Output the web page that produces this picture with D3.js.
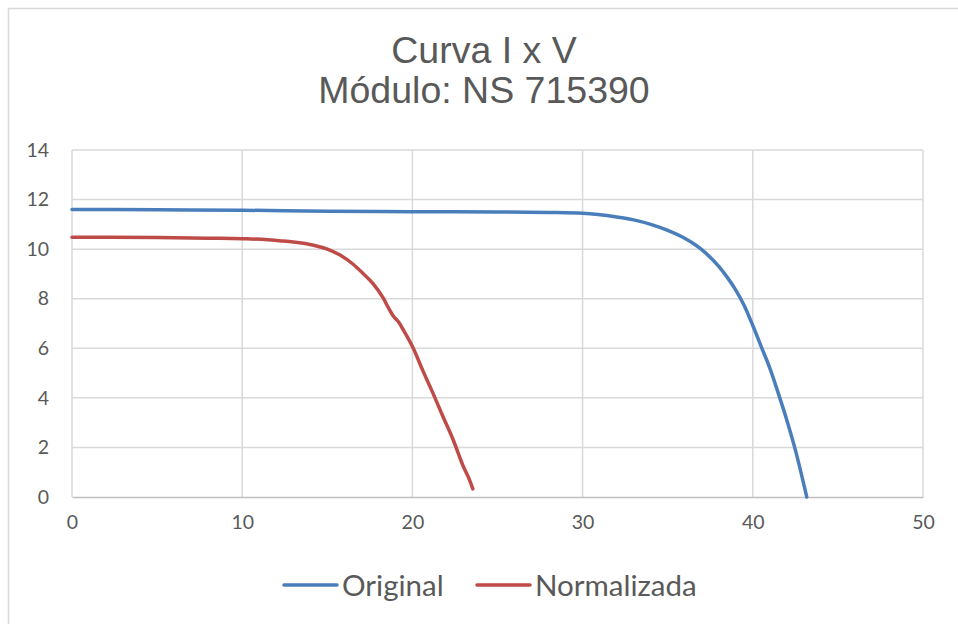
<!DOCTYPE html>
<html>
<head>
<meta charset="utf-8">
<script src="https://cdn.jsdelivr.net/npm/d3@7"></script>
<style>
  html, body { margin: 0; padding: 0; background: #fff; }
  svg { display: block; }
</style>
</head>
<body>
<svg id="chart" width="958" height="624"></svg>
<script>
// I-V curve of module NS 715390: original and normalized measurements
const titleLines = ["Curva I x V", "Módulo: NS 715390"];

const originalV = [0, 5, 10, 15, 20, 25, 28, 30, 32, 33, 34, 35, 36, 37, 38, 38.5, 39, 39.5, 40, 40.5, 41, 41.5, 42, 42.5, 43, 43.17];
const originalI = [11.6, 11.59, 11.57, 11.53, 11.51, 11.5, 11.48, 11.45, 11.3, 11.18, 11.0, 10.76, 10.44, 9.98, 9.3, 8.86, 8.35, 7.72, 6.92, 6.06, 5.2, 4.18, 3.1, 1.9, 0.5, 0];

const normV = [0, 5, 8, 10, 11.5, 12.2, 13, 14.2, 15, 15.75, 16.5, 17.1, 17.7, 18.3, 18.6, 18.9, 19.2, 19.5, 20.05, 20.6, 21.2, 21.8, 22.4, 23.0, 23.3, 23.55];
const normI = [10.48, 10.47, 10.44, 10.42, 10.38, 10.34, 10.29, 10.16, 10.0, 9.76, 9.4, 9.02, 8.6, 8.01, 7.62, 7.28, 7.05, 6.7, 6.0, 5.12, 4.2, 3.24, 2.3, 1.22, 0.78, 0.33];

const xTicks = [0, 10, 20, 30, 40, 50];
const yTicks = [0, 2, 4, 6, 8, 10, 12, 14];

const seriesNames = ["Original", "Normalizada"];
const seriesColors = ["#4a7ebb", "#be4b48"];

const svg = d3.select("#chart");
const textColor = "#595959";
const gridColor = "#d9d9d9";

// chart frame
svg.append("rect")
  .attr("x", 8.5).attr("y", 8.5)
  .attr("width", 970).attr("height", 640)
  .attr("fill", "#fff")
  .attr("stroke", "#d9d9d9")
  .attr("stroke-width", 1.5);

const x = d3.scaleLinear().domain([0, 50]).range([72, 923]);
const y = d3.scaleLinear().domain([0, 14]).range([497, 150]);

// title
const title = svg.append("text")
  .attr("text-anchor", "middle")
  .attr("font-family", "Liberation Sans, Arial, sans-serif")
  .attr("font-size", 37.5)
  .attr("fill", textColor);
titleLines.forEach((t, i) => {
  title.append("tspan").attr("x", 484).attr("y", 63 + i * 40).text(t);
});

// gridlines
const grid = svg.append("g");
grid.selectAll("line.h").data(yTicks.filter(d => d > 0)).join("line")
  .attr("x1", x(0)).attr("x2", x(50))
  .attr("y1", d => y(d)).attr("y2", d => y(d))
  .attr("stroke", gridColor).attr("stroke-width", 1.5);
grid.selectAll("line.v").data(xTicks).join("line")
  .attr("x1", d => x(d)).attr("x2", d => x(d))
  .attr("y1", y(0)).attr("y2", y(14))
  .attr("stroke", gridColor).attr("stroke-width", 1.5);

// x axis
const xAxis = svg.append("g")
  .attr("transform", `translate(0,${y(0)})`)
  .call(d3.axisBottom(x).tickValues(xTicks).tickSize(0).tickPadding(18));
xAxis.select(".domain").attr("stroke", "#bfbfbf").attr("stroke-width", 1.5);
xAxis.selectAll("text")
  .attr("font-family", "Lato, sans-serif").attr("font-size", 19.5).attr("fill", textColor);

// y axis
const yAxis = svg.append("g")
  .attr("transform", `translate(${x(0)},0)`)
  .call(d3.axisLeft(y).tickValues(yTicks).tickSize(0).tickPadding(23));
yAxis.select(".domain").remove();
yAxis.selectAll("text")
  .attr("font-family", "Lato, sans-serif").attr("font-size", 19.5).attr("fill", textColor);

// series
const line = d3.line().x(d => x(d[0])).y(d => y(d[1])).curve(d3.curveMonotoneX);
const series = [
  d3.zip(originalV, originalI),
  d3.zip(normV, normI)
];
svg.append("g").selectAll("path").data(series).join("path")
  .attr("d", line)
  .attr("fill", "none")
  .attr("stroke", (d, i) => seriesColors[i])
  .attr("stroke-width", 3.5)
  .attr("stroke-linecap", "round")
  .attr("stroke-linejoin", "round");

// legend
const legendItems = [
  { name: seriesNames[0], color: seriesColors[0], x: 284 },
  { name: seriesNames[1], color: seriesColors[1], x: 477 }
];
const legend = svg.append("g");
legendItems.forEach(it => {
  legend.append("line")
    .attr("x1", it.x).attr("x2", it.x + 53)
    .attr("y1", 585).attr("y2", 585)
    .attr("stroke", it.color).attr("stroke-width", 3.5)
    .attr("stroke-linecap", "round");
  legend.append("text")
    .attr("x", it.x + 58).attr("y", 596)
    .attr("font-family", "Lato, sans-serif").attr("font-size", 29.5)
    .attr("fill", textColor)
    .text(it.name);
});
</script>
</body>
</html>
